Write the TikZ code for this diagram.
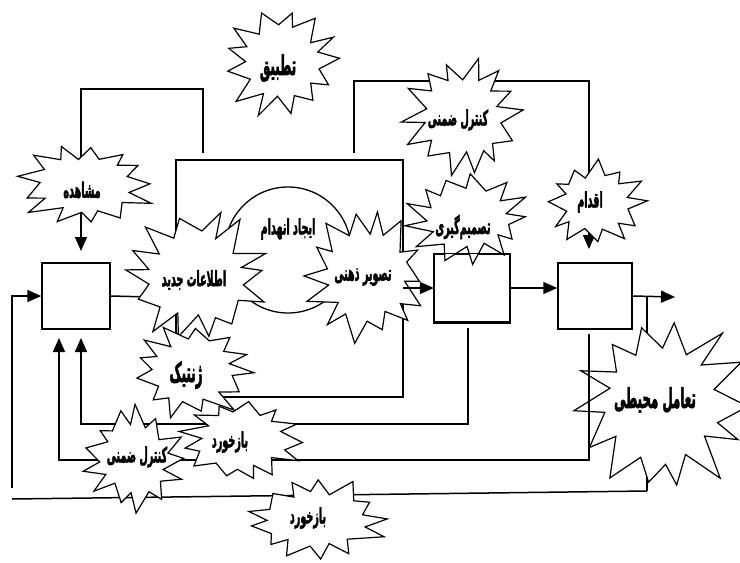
\documentclass[tikz,border=0pt]{standalone}
\usepackage{fontspec}
\usetikzlibrary{arrows.meta}
\newfontfamily\persianfont[Script=Arabic,FakeBold=3]{DejaVu Sans Bold}
\TeXXeTstate=1
% condensed, tall Persian label
\newcommand{\fatxt}[1]{\scalebox{0.8}[1.75]{\beginR #1\endR}}
\newcommand{\fabig}[1]{\scalebox{0.74}[1.7]{\beginR #1\endR}}
% jagged burst outline: centre, radii, number of points, last sample index, seed
\newcommand{\burst}[7]{%
  \filldraw[burstline] plot[samples at={0,...,#6},variable=\k]
    ({#1+#3*rr(\k,#7)*cos(\k*180/#5+12*(hh(\k+7,#7)-0.5))},
     {#2+#4*rr(\k,#7)*sin(\k*180/#5+12*(hh(\k+7,#7)-0.5))}) -- cycle;}

\begin{document}
\begin{tikzpicture}[x=1pt,y=-1pt,
  declare function={
    hh(\k,\s)=frac(abs(sin(\k*137.508+\s*53.3))*97.31);
    rr(\k,\s)=(mod(\k,2)==0) ? (1-0.2*hh(\k,\s)) : (0.56+0.1*hh(\k,\s));
  },
  wire/.style={line width=1.5pt},
  arr/.style={wire,-{Triangle[length=14pt,width=12pt]}},
  blk/.style={draw,line width=1.5pt,fill=white,inner sep=0pt},
  burstline/.style={draw=black,fill=white,line width=1.2pt,line join=miter},
  lbl/.style={inner sep=0pt,font=\persianfont\fontsize{12}{14}\selectfont},
  biglbl/.style={inner sep=0pt,font=\persianfont\fontsize{16}{19}\selectfont},
]
\useasboundingbox (0,0) rectangle (740,563);
\clip (0,0) rectangle (740,563);
\fill[white] (0,0) rectangle (740,563);

% ---- blocks ----
\node[blk,minimum width=68pt,minimum height=66pt] (b1) at (76,296) {};
\node[blk,minimum width=75pt,minimum height=68pt] (b2) at (472,288) {};
\node[blk,minimum width=74pt,minimum height=66pt] (b3) at (595,296) {};

% ---- helper points of the wiring ----
\coordinate (out)   at (675,297);
\coordinate (outT)  at (647,297);
\coordinate (fbR)   at (647,491);
\coordinate (fbL)   at (12,499);
\coordinate (fbUp)  at (12,488);
\coordinate (obsS)  at (203,153);
\coordinate (obsT)  at (81,89);
\coordinate (obsE)  at (81,251);
\coordinate (actS)  at (354,153);
\coordinate (actT)  at (589,81);
\coordinate (actE)  at (589,249);
\coordinate (mrNW)  at (176,160);
\coordinate (mrSE)  at (403,397);
\coordinate (g2S)   at (468,328);
\coordinate (g2C)   at (81,424);
\coordinate (g2E)   at (81,338);
\coordinate (g3S)   at (589,334);
\coordinate (g3C)   at (59,460);
\coordinate (g3E)   at (59,338);
\coordinate (g3B)   at (589,456);
\coordinate (midL)  at (150,297);
\coordinate (midR)  at (403,288);

% ---- wiring behind the bursts ----
\draw[arr] (b3.east) -- (out);
\draw[wire] (outT) -- (fbR);
\draw[wire] (fbR) -- (fbL);
\draw[arr] (fbUp) |- (b1.west);
\draw[wire] (b1.east) -- (midL);
\draw[arr] (b2.east) -- (b3.west |- b2.east);
\draw[arr] (obsS) |- (obsT) -- (obsE);
\draw[arr] (actS) |- (actT) -- (actE);
\draw[wire] (mrNW) rectangle (mrSE);
\node[circle,draw,line width=1.3pt,minimum size=126pt,inner sep=0pt] (cyc) at (288,250) {};
\node[lbl] (tCyc) at (288,229) {\fatxt{ایجاد انهدام}};
\draw[arr] (g2S) |- (g2C) -- (g2E);
\draw[arr] (g3S) |- (g3C) -- (g3E);

% ---- bursts with their labels ----
\burst{282}{63}{62}{59}{13}{25}{11}
\node[biglbl] (tTatbiq) at (278,68) {\fabig{تطبیق}};

\burst{85}{185}{73}{46}{13}{25}{23}
\node[lbl] (tObs) at (82,190) {\fatxt{مشاهده}};

\burst{463}{116}{62}{64}{14}{27}{5}
\node[lbl] (tCtrlT) at (458,120) {\fatxt{کنترل ضمنی}};

\burst{468}{219}{65}{47}{13}{25}{41}
\node[lbl] (tDec) at (463,227) {\fatxt{تصمیم‌گیری}};

\burst{595}{203}{53}{46}{12}{23}{7}
\node[lbl] (tAct) at (590,202) {\fatxt{اقدام}};

\burst{197}{276}{77}{69}{14}{27}{19}
\node[lbl] (tInfo) at (194,280) {\fatxt{اطلاعات جدید}};

\burst{366}{276}{67}{69}{14}{27}{31}
\node[lbl] (tImg) at (363,277) {\fatxt{تصویر ذهنی}};

\burst{192}{371}{68}{50}{13}{25}{3}
\node[biglbl] (tGen) at (186,375) {\fabig{ژنتیک}};

\burst{134}{459}{53}{56}{13}{25}{13}
\node[lbl] (tCtrlB) at (137,457) {\fatxt{کنترل ضمنی}};

\burst{242}{440}{70}{46}{13}{25}{29}
\node[lbl] (tFbM) at (230,442) {\fatxt{بازخورد}};

\burst{316}{520}{77}{44}{13}{25}{37}
\node[lbl] (tFbB) at (308,518) {\fatxt{بازخورد}};

\burst{662}{404}{92}{97}{14}{27}{17}
\node[biglbl] (tEnv) at (655,400) {\fabig{تعامل محیطی}};

% ---- wiring drawn over the bursts ----
\draw[line width=1.5pt] (b2.north west) rectangle (b2.south east);
\draw[arr] (midR) -- (b2.west);
\draw[wire] (g3S) -- (g3B);
\end{tikzpicture}
\end{document}
